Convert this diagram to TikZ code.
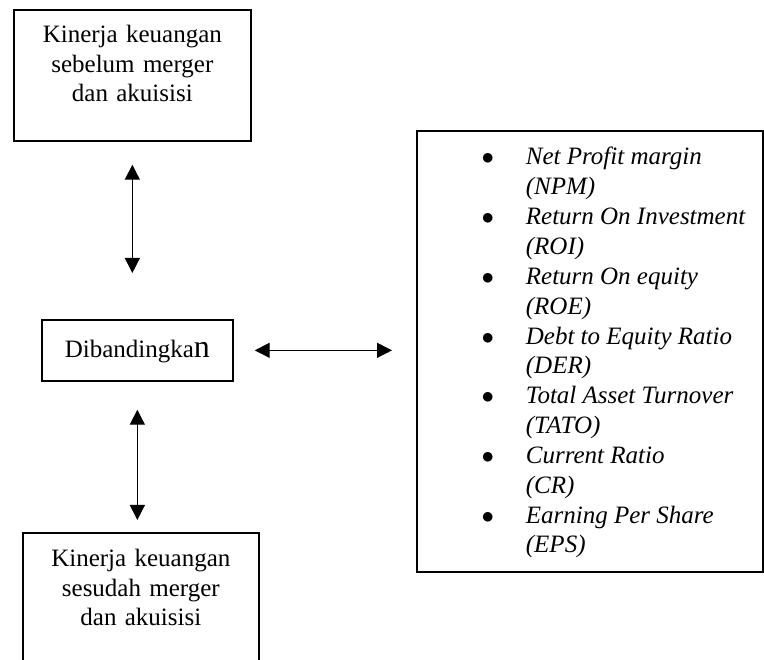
\documentclass[tikz,border=0pt]{standalone}
\usepackage{fontspec}
\setmainfont{Liberation Serif}
\usetikzlibrary{arrows.meta}

\begin{document}
\begin{tikzpicture}[x=1pt,y=-1pt,
box/.style={draw,line width=1.7pt,rectangle,inner sep=0pt,anchor=north west,
    align=center,font=\fontsize{25}{29.3}\selectfont},
biarrow/.style={{Triangle[length=15pt,width=15pt]}-{Triangle[length=15pt,width=15pt]},
    line width=1.3pt}]
\clip (0,0) rectangle (764,660);
\node (before) [box,text width=237pt,text height=33pt,text depth=98pt] at (13,9)
    {Kinerja keuangan\\sebelum merger\\dan akuisisi};
\node (cmp) [box,text width=191pt,text height=38pt,text depth=23pt] at (41,319)
    {Dibandingka{\fontsize{32}{32}\selectfont n}};
\node (after) [box,text width=236pt,text height=34pt,text depth=160pt] at (22,532)
    {Kinerja keuangan\\sesudah merger\\dan akuisisi};
\node (metrics) [box,line width=1.9pt,text height=34pt,text depth=407pt,
    font=\fontsize{25}{29.85}\selectfont] at (416,130) {%
\begin{tabular}[t]{@{\hspace{64.75pt}}c@{\hspace{31.75pt}}p{237pt}@{}}
$\bullet$ & \textit{Net Profit margin}\\
 & \textit{(NPM)}\\
$\bullet$ & \textit{Return On Investment}\\
 & \textit{(ROI)}\\
$\bullet$ & \textit{Return On equity}\\
 & \textit{(ROE)}\\
$\bullet$ & \textit{Debt to Equity Ratio}\\
 & \textit{(DER)}\\
$\bullet$ & \textit{Total Asset Turnover}\\
 & \textit{(TATO)}\\
$\bullet$ & \textit{Current Ratio}\\
 & \textit{(CR)}\\
$\bullet$ & \textit{Earning Per Share}\\
 & \textit{(EPS)}\\
\end{tabular}};
% arrows between the boxes
\draw[biarrow,shorten <=23pt,shorten >=46pt] (before.south) -- (before.south |- cmp.north);
\draw[biarrow,shorten <=21pt,shorten >=24pt] (cmp.east) -- (cmp.east -| metrics.west);
\draw[biarrow,shorten <=28pt,shorten >=12pt] (cmp.south) -- (cmp.south |- after.north);
\end{tikzpicture}
\end{document}
